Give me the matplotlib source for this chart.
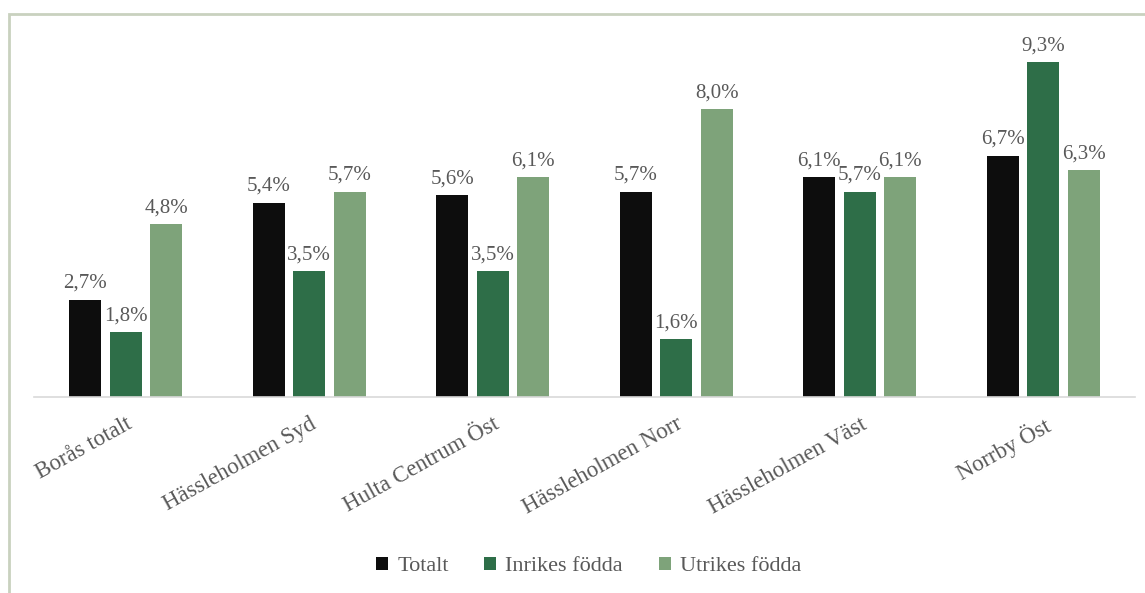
import matplotlib
matplotlib.use('Agg')
import matplotlib.pyplot as plt
from matplotlib.patches import Rectangle
import numpy as np

plt.rcParams['font.family'] = ['Liberation Serif', 'DejaVu Serif']

categories = ['Borås totalt', 'Hässleholmen Syd', 'Hulta Centrum Öst',
              'Hässleholmen Norr', 'Hässleholmen Väst', 'Norrby Öst']
series = ['Totalt', 'Inrikes födda', 'Utrikes födda']
totalt = [2.7, 5.4, 5.6, 5.7, 6.1, 6.7]
inrikes = [1.8, 3.5, 3.5, 1.6, 5.7, 9.3]
utrikes = [4.8, 5.7, 6.1, 8.0, 6.1, 6.3]
colors = ['#0d0d0d', '#2e6e48', '#7ea37a']

fig = plt.figure(figsize=(11.45, 5.93), dpi=100)
ax = fig.add_axes([0.0297, 0.3305, 0.9616, 0.607])

x = np.arange(len(categories))
width = 0.175
step = 0.22
for i, (vals, name) in enumerate(zip([totalt, inrikes, utrikes], series)):
    pos = x + (i - 1) * step
    bars = ax.bar(pos, vals, width, color=colors[i], label=name)
    for b, v in zip(bars, vals):
        ax.annotate(f'{v:.1f}%'.replace('.', ','),
                    (b.get_x() + b.get_width() / 2, v),
                    xytext=(0, 5), textcoords='offset points',
                    ha='center', va='bottom', fontsize=15, color='#595959')

ax.set_xlim(-0.5, len(categories) - 0.5)
ax.set_ylim(0, 10)
ax.set_yticks([])
ax.set_xticks(x)
ax.set_xticklabels(categories, rotation=29, ha='right', rotation_mode='anchor',
                   fontsize=16.5, color='#595959')
ax.tick_params(axis='x', length=0, pad=12)
for s in ['top', 'right', 'left']:
    ax.spines[s].set_visible(False)
ax.spines['bottom'].set_color('#d9d9d9')
ax.spines['bottom'].set_linewidth(1.2)

leg = fig.legend(loc='center', bbox_to_anchor=(0.514, 0.045), ncol=3, frameon=False,
                 fontsize=16, handlelength=0.55, handleheight=0.55,
                 handletextpad=0.4, columnspacing=1.6)
for t in leg.get_texts():
    t.set_color('#595959')

fig.patches.append(Rectangle((9 / 1145, -0.1), 1.2, 1.1 - 14 / 593,
                             transform=fig.transFigure, fill=False,
                             edgecolor='#c9d1bf', linewidth=2))

fig.savefig('out.png', dpi=100)
